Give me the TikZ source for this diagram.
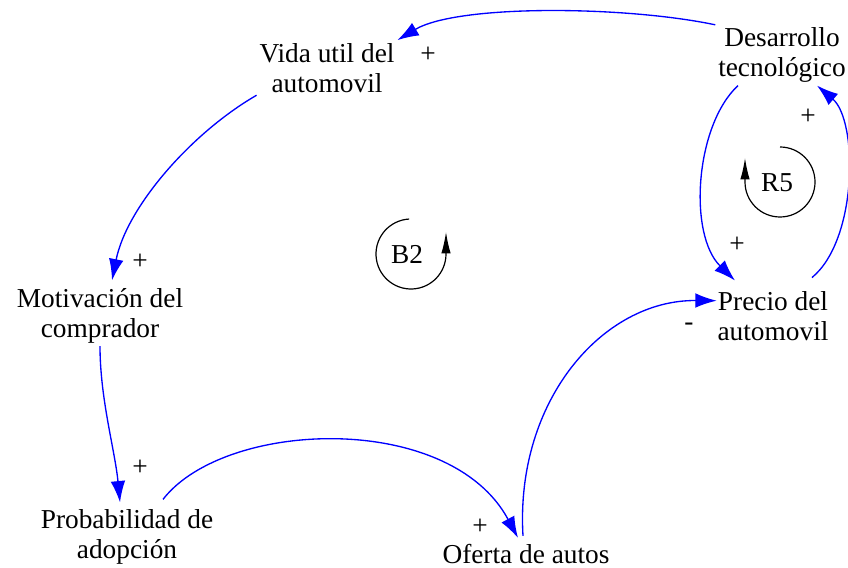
\documentclass[tikz,border=0pt]{standalone}
\usepackage{fontspec}
\setmainfont{Liberation Serif}
\usetikzlibrary{arrows.meta}
\definecolor{linkblue}{RGB}{0,0,255}
\begin{document}
\begin{tikzpicture}[x=0.75pt,y=0.75pt,
  var/.style={align=center, inner sep=2pt, font=\fontsize{20.5}{22.5}\selectfont},
  sign/.style={inner sep=0pt, font=\fontsize{20.5}{22.5}\selectfont},
  link/.style={draw=linkblue, line width=1pt, -{Latex[length=16pt,width=11pt]}},
  loopline/.style={draw=black, line width=0.9pt, -{Latex[length=16pt,width=7pt]}}]

\useasboundingbox (0,0) rectangle (848,567);

% variables
\node[var] (vida)   at (327,499.3) {Vida util del\\automovil};
\node[var] (des)    at (782,511.8) {Desarrollo\\tecnológico};
\node[var] (precio) at (773,251.3) {Precio del\\automovil};
\node[var] (motiv)  at (100,251.3) {Motivación del\\comprador};
\node[var] (prob)   at (127,30.3)  {Probabilidad de\\adopción};
\node[var] (oferta) at (526,13.4)  {Oferta de autos};

% links
\draw[link] (des.north west) .. controls +(-90,19) and +(60,36) .. (vida.north east);
\draw[link] (vida.south west) .. controls +(-65,-37.5) and +(14.7,73.5) .. ([shift={(12,5)}]motiv.north);
\draw[link] (motiv.south) .. controls +(0,-53) and +(-5,52) .. ([shift={(-7,4)}]prob.north);
\draw[link] ([shift={(36,7)}]prob.north) .. controls +(62,80) and +(-68,127) .. ([shift={(-8,3)}]oferta.north);
\draw[link] ([shift={(-3,5)}]oferta.north) .. controls +(-8,135) and +(-114,1) .. ([shift={(2,15)}]precio.west);
\draw[link] ([shift={(-44,0)}]des.south) .. controls +(-43,-40) and +(-47,46) .. ([shift={(-38,7.6)}]precio.north);
\draw[link] ([shift={(39,10.6)}]precio.north) .. controls +(46,38) and +(41,-35) .. ([shift={(35,0)}]des.south);

% polarity signs
\node[sign] (s1) at (428,512) {+};
\node[sign] (s2) at (140,305) {+};
\node[sign] (s3) at (140,99)  {+};
\node[sign] (s4) at (480,40)  {+};
\node[sign] (s5) at (689,240) {-};
\node[sign] (s6) at (737,322) {+};
\node[sign] (s7) at (808,450) {+};

% loops
\node[var] (b2) at (407,313) {B2};
\draw[loopline] (411,313) ++(93:35) arc[start angle=93, end angle=360, radius=35] -- ++(0,22);
\node[var] (r5) at (777,384) {R5};
\draw[loopline] (780,385) ++(90:35) arc[start angle=90, end angle=-180, radius=35] -- ++(0,24);
\end{tikzpicture}
\end{document}
